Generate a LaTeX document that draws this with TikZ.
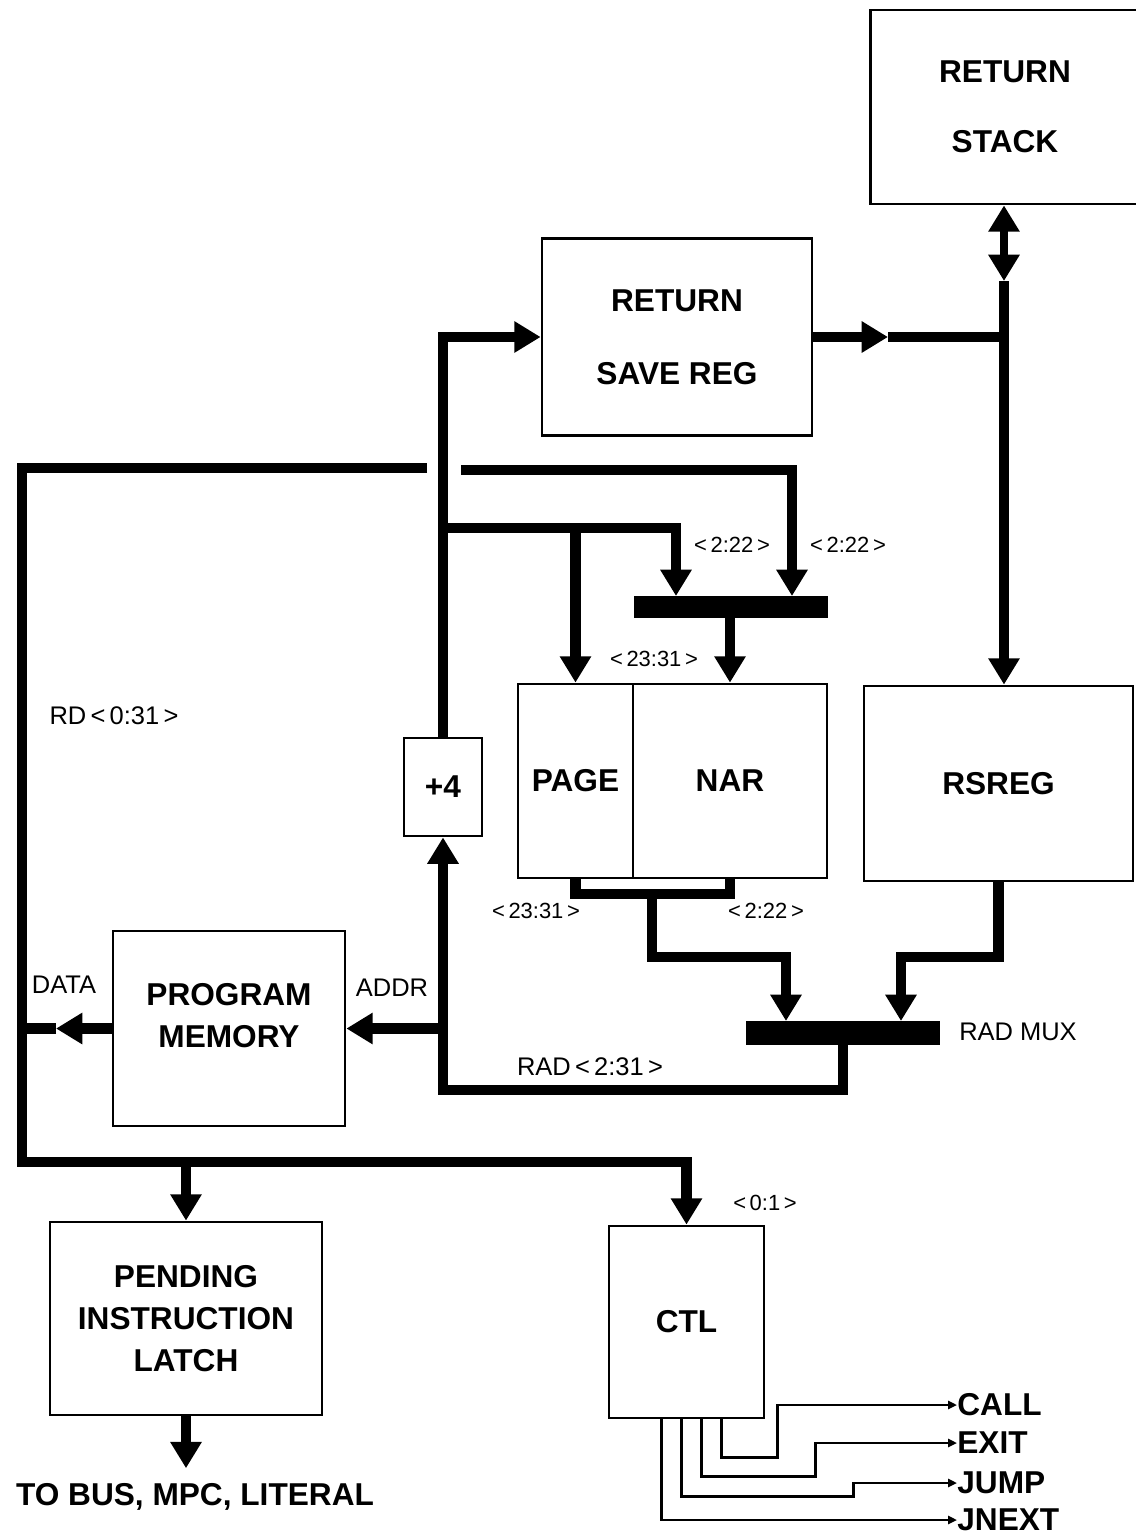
\documentclass[tikz,border=0pt]{standalone}
\usepackage{fontspec}
\setmainfont{Liberation Sans}
\usetikzlibrary{arrows.meta, calc}
\tikzset{
  blockbox/.style={
    draw, line width=1.6pt, inner sep=0pt, align=center,
    font=\fontsize{18}{24}\selectfont\bfseries,
  },
  boxtext/.style={inner sep=0pt, align=center, font=\fontsize{18}{24}\selectfont\bfseries},
  muxbar/.style={fill=black, inner sep=0pt, minimum width=3.88cm},
  bus/.style={line width=6pt},
  busarrow/.style={bus, -{Triangle[length=15pt, width=17pt]}},
  dblbus/.style={line width=5pt, {Triangle[length=15pt, width=17pt]}-{Triangle[length=15pt, width=17pt]}},
  sig/.style={line width=1.4pt, -{Triangle[length=5pt, width=4.5pt]}},
  buslbl/.style={inner sep=0pt, font=\fontsize{14.5}{16}\selectfont},
  bitlbl/.style={inner sep=0pt, font=\fontsize{12.5}{14}\selectfont},
  outlbl/.style={inner sep=0pt, anchor=west, font=\fontsize{18}{20}\selectfont\bfseries},
}

\begin{document}
\begin{tikzpicture}[x=0.02cm, y=-0.02cm]
  \useasboundingbox (0,0) rectangle (1136,1536);

  % blocks
  \node[blockbox, minimum width=5.38cm, minimum height=3.88cm]
    (stack) at (1005,107) {RETURN\\[16pt]STACK};
  \node[blockbox, minimum width=5.4cm, minimum height=3.94cm]
    (savereg) at (677,337) {RETURN\\[17.5pt]SAVE REG};
  \node[blockbox, minimum width=2.3cm, minimum height=3.88cm]
    (page) at (575.5,781) {PAGE};
  \node[blockbox, minimum width=3.88cm, minimum height=3.88cm]
    (nar) at (730,781) {NAR};
  \node[blockbox, minimum width=5.38cm, minimum height=3.9cm]
    (rsreg) at (998.5,783.5) {RSREG};
  \node[blockbox, minimum width=1.56cm, minimum height=1.96cm]
    (plus4) at (443,787) {+4};
  \node[blockbox, minimum width=4.64cm, minimum height=3.9cm]
    (progmem) at (229,1028.5) {};
  \node[boxtext] at (229,1016) {PROGRAM\\MEMORY};
  \node[blockbox, minimum width=5.44cm, minimum height=3.86cm]
    (latch) at (186,1318.5) {PENDING\\INSTRUCTION\\LATCH};
  \node[blockbox, minimum width=3.1cm, minimum height=3.84cm]
    (ctl) at (686.5,1322) {CTL};

  % muxes
  \node[muxbar, minimum height=0.44cm] (nmux) at (731,607) {};
  \node[muxbar, minimum height=0.48cm] (radmux) at (843,1033) {};

  % bend points
  \coordinate (rdgapL) at (427,468);
  \coordinate (rdcorner) at (22,468);
  \coordinate (rdfoot) at (22,1162);
  \coordinate (rdgapR) at (461,470);
  \coordinate (nmuxin1) at (676,596);
  \coordinate (nmuxin2) at (792,596);
  \coordinate (pctap) at (443,528);
  \coordinate (savetip) at (888,337);
  \coordinate (stkbus) at (1004,281);
  \coordinate (datatip) at (56,1028.5);
  \coordinate (umid) at (652,894);
  \coordinate (ubend) at (652,957);
  \coordinate (radin1) at (786,1021);
  \coordinate (radin2) at (901,1021);
  \coordinate (radfoot) at (443,1090);

  % RD bus
  \draw[busarrow] (rdgapL) -- (rdcorner) -- (rdfoot) -| (ctl.north);
  \draw[busarrow] (latch.north |- rdfoot) -- (latch.north);
  \draw[busarrow] (progmem.west) -- (datatip);
  \draw[bus] (datatip) -- (datatip -| rdfoot);
  \draw[busarrow] (rdgapR) -| (nmuxin2);

  % incremented address
  \draw[busarrow] (plus4.north) |- (savereg.west);
  \draw[busarrow] (pctap) -| (nmuxin1);
  \draw[busarrow] (page.north |- pctap) -- (page.north);
  \draw[busarrow] (nar.north |- nmux.south) -- (nar.north);

  % return path
  \draw[busarrow] (savereg.east) -- (savetip);
  \draw[bus] (savetip) -- (savetip -| stkbus);
  \draw[dblbus] (stack.south -| stkbus) -- (stkbus);
  \draw[busarrow] (stkbus) -- (stkbus |- rsreg.north);

  % into RAD MUX
  \draw[bus] (page.south) -- (page.south |- umid) -- (nar.south |- umid) -- (nar.south);
  \draw[busarrow] (umid) -- (ubend) -| (radin1);
  \draw[busarrow] (rsreg.south) -- (rsreg.south |- ubend) -| (radin2);
  \draw[busarrow] (radmux.south) |- (radfoot) -- (plus4.south);
  \draw[busarrow] (plus4.south |- progmem.east) -- (progmem.east);

  % latch output
  \node[boxtext] (tobus) at (195,1497) {TO BUS, MPC, LITERAL};
  \draw[busarrow, shorten >=8.5pt] (latch.south) -- (latch.south |- tobus.north);

  % control outputs
  \node[outlbl] (call) at (957,1405) {CALL};
  \node[outlbl] (exit) at (957,1443) {EXIT};
  \node[outlbl] (jump) at (957,1483) {JUMP};
  \node[outlbl] (jnext) at (957,1520) {JNEXT};
  \draw[sig] ($(ctl.south west)+(114,0)$) -- ++(0,38) -- ++(56,0) |- (call.west);
  \draw[sig] ($(ctl.south west)+(94,0)$) -- ++(0,57) -- ++(114,0) |- (exit.west);
  \draw[sig] ($(ctl.south west)+(74,0)$) -- ++(0,77) -- ++(172,0) |- (jump.west);
  \draw[sig] ($(ctl.south west)+(54,0)$) |- (jnext.west);

  % labels
  \node[bitlbl] at (732,545) {<\,2:22\,>};
  \node[bitlbl] at (848,545) {<\,2:22\,>};
  \node[bitlbl] at (654,659) {<\,23:31\,>};
  \node[buslbl] at (114,716) {RD\,<\,0:31\,>};
  \node[bitlbl] at (536,911) {<\,23:31\,>};
  \node[bitlbl] at (766,911) {<\,2:22\,>};
  \node[buslbl] at (64,985) {DATA};
  \node[buslbl] at (392,988) {ADDR};
  \node[buslbl] at (1018,1032) {RAD MUX};
  \node[buslbl] at (590,1067) {RAD\,<\,2:31\,>};
  \node[bitlbl] at (765,1203) {<\,0:1\,>};

\end{tikzpicture}
\end{document}
